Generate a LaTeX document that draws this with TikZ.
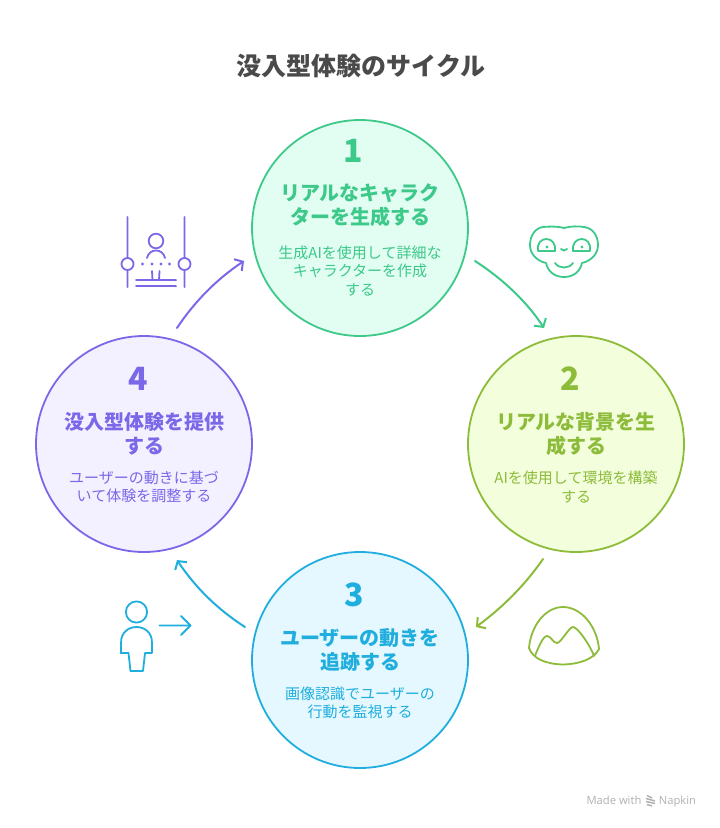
\documentclass[tikz,border=0pt]{standalone}
\usepackage{fontspec}
\setmainfont{Noto Sans CJK JP}
\newfontfamily\markfont{Open Sans}
\usetikzlibrary{arrows.meta}
\definecolor{cgreen}{HTML}{3CC98A}
\definecolor{fgreen}{HTML}{E2FDF1}
\definecolor{colive}{HTML}{8DBB3A}
\definecolor{folive}{HTML}{F3FFDC}
\definecolor{cblue}{HTML}{1FAEDD}
\definecolor{fblue}{HTML}{E6F8FF}
\definecolor{cpurple}{HTML}{7B68E8}
\definecolor{fpurple}{HTML}{F3F1FF}
\definecolor{ctitle}{HTML}{4A4A4A}
\definecolor{cmark}{HTML}{B0B0B0}
\tikzset{
  x=1pt,y=-1pt,
  stage/.style={circle,draw=#1,line width=1.8pt,minimum size=216pt,inner sep=0pt},
  num/.style={text=#1,font=\fontsize{32}{32}\selectfont\bfseries,inner sep=0pt},
  head/.style={text=#1,font=\fontsize{20}{24.5}\selectfont\bfseries,align=center,inner sep=0pt},
  body/.style={text=#1,font=\fontsize{15}{18.5}\selectfont,align=center,inner sep=0pt},
  flow/.style={draw=#1,line width=2pt,line cap=round,-{Straight Barb[length=6pt,width=14pt,line width=2pt]}},
  icon/.style={draw=#1,line width=1.8pt,line cap=round,line join=round},
  markword/.style={text=cmark,font=\markfont\fontsize{11.2}{11.2}\selectfont,inner sep=0pt,anchor=base},
}
\begin{document}
\begin{tikzpicture}
\useasboundingbox (0,0) rectangle (720,828);
\node[text=ctitle,font=\fontsize{25}{25}\selectfont\bfseries,inner sep=0pt] (title) at (361,66) {没入型体験のサイクル};

\node[stage=cgreen,fill=fgreen] (s1) at (360,228) {};
\node[stage=colive,fill=folive] (s2) at (576,444) {};
\node[stage=cblue,fill=fblue] (s3) at (360,660) {};
\node[stage=cpurple,fill=fpurple] (s4) at (144,444) {};

\node[num=cgreen] (n1) at (353.5,151) {1};
\node[head=cgreen] (h1) at (360,205) {リアルなキャラク\\ターを生成する};
\node[body=cgreen] (b1) at (360,271) {生成AIを使用して詳細な\\キャラクターを作成\\する};

\node[num=colive] (n2) at (570.5,379) {2};
\node[head=colive] (h2) at (576,434) {リアルな背景を生\\成する};
\node[body=colive] (b2) at (576,487) {AIを使用して環境を構築\\する};

\node[num=cblue] (n3) at (354.5,595) {3};
\node[head=cblue] (h3) at (360,650) {ユーザーの動きを\\追跡する};
\node[body=cblue] (b3) at (360,703) {画像認識でユーザーの\\行動を監視する};

\node[num=cpurple] (n4) at (138.5,379) {4};
\node[head=cpurple] (h4) at (144,434) {没入型体験を提供\\する};
\node[body=cpurple] (b4) at (144,487) {ユーザーの動きに基づ\\いて体験を調整する};

% connectors
\coordinate (a1) at (475,261); \coordinate (a2) at (544,328);
\coordinate (b2s) at (543,559); \coordinate (b3e) at (476,627);
\coordinate (c3) at (245,627); \coordinate (c4) at (177,560);
\coordinate (d4) at (177,328); \coordinate (d1) at (244,261);
\draw[flow=cgreen] (a1) .. controls (503,279) and (527,302) .. (a2);
\draw[flow=colive] (b2s) .. controls (525,585) and (503,607) .. (b3e);
\draw[flow=cblue] (c3) .. controls (217,609) and (195,587) .. (c4);
\draw[flow=cpurple] (d4) .. controls (195,301) and (217,279) .. (d1);

% icon: purple (straight strokes lean by a hair so the rasteriser keeps their width)
\begin{scope}[icon=cpurple]
\draw (127.4,217) -- (127.6,258) (127.4,270) -- (127.6,287);
\draw (184.4,217) -- (184.6,258) (184.4,270) -- (184.6,287);
\draw (127.5,264) circle (6);
\draw (184.5,264) circle (6);
\draw (156,241) circle (7.3);
\draw (147,258) .. controls (148,253) and (152,250.5) .. (156,250.5) .. controls (160,250.5) and (164,253) .. (165,258);
\draw (152,271) -- (152.5,280) (159.5,271) -- (159,280);
\draw (136,279.9) -- (176,280.1) (136,285.9) -- (176,286.1);
\end{scope}
\foreach \px in {142.5,152,161,169.5} \fill[cpurple] (\px,264) circle (1.6);

% icon: face
\begin{scope}[icon=cgreen]
\draw (564,228) .. controls (556,226) and (548,226.5) .. (543,227) .. controls (535,228) and (530,236) .. (530,245)
  .. controls (530,254) and (537,261) .. (546,263) .. controls (548,272) and (555,277) .. (564,277)
  .. controls (573,277) and (580,272) .. (582,263) .. controls (591,261) and (598,254) .. (598,245)
  .. controls (598,236) and (593,228) .. (584,227) .. controls (578,226) and (572,226) .. (564,228) -- cycle;
\draw (538,250.9) .. controls (537,243) and (541,239) .. (546.5,239) .. controls (552,239) and (556,244) .. (555,251.1) -- cycle;
\draw (573,251.1) .. controls (572,244) and (576,239) .. (581.5,239) .. controls (587,239) and (591,243) .. (590,250.9) -- cycle;
\draw (561,249) .. controls (563,251) and (565,251) .. (567,249);
\draw (555,263) .. controls (559,269) and (569,269) .. (573,263);
\end{scope}
\fill[cgreen] (547,247) circle (1.6) (582,247) circle (1.6);

% icon: mountain
\begin{scope}[icon=colive]
\draw (529,648) .. controls (531,625) and (546,607) .. (563,607) .. controls (581,607) and (597,626) .. (599,649)
  .. controls (594,659) and (580,664) .. (563,664.5) .. controls (546,664) and (533,659) .. (529,648) -- cycle;
\draw (535,656) .. controls (538,648) and (543,636) .. (547,636) .. controls (551,636) and (553,643) .. (557,643)
  .. controls (561,643) and (569,627) .. (573,627) .. controls (578,627) and (591,647) .. (594,656);
\end{scope}

% icon: person
\begin{scope}[icon=cblue]
\draw (136.5,612) circle (10.6);
\draw (120.9,653.1) -- (121.1,642) .. controls (121,633) and (128,627) .. (136.5,627) .. controls (145,627) and (152,633) .. (151.9,642) -- (152.1,652.9) -- (145,653.1) -- (143,670.9) -- (130.5,671.1) -- (128.5,652.9) -- cycle;
\draw (159.5,625.4) -- (190.5,625.6);
\draw (181,616) -- (190.5,625.5) -- (181,635);
\end{scope}

% mark
\node[markword] (made) at (614,804.5) {Made with};
\node[markword] (nap) at (677.5,804.5) {Napkin};
\begin{scope}[draw=cmark,line width=1.5pt]
\draw (647,795.5) -- (652,798) (646,798.5) -- (655,801) (646,801.5) -- (655,803.5) (647,804.5) -- (652,806);
\end{scope}
\end{tikzpicture}
\end{document}
